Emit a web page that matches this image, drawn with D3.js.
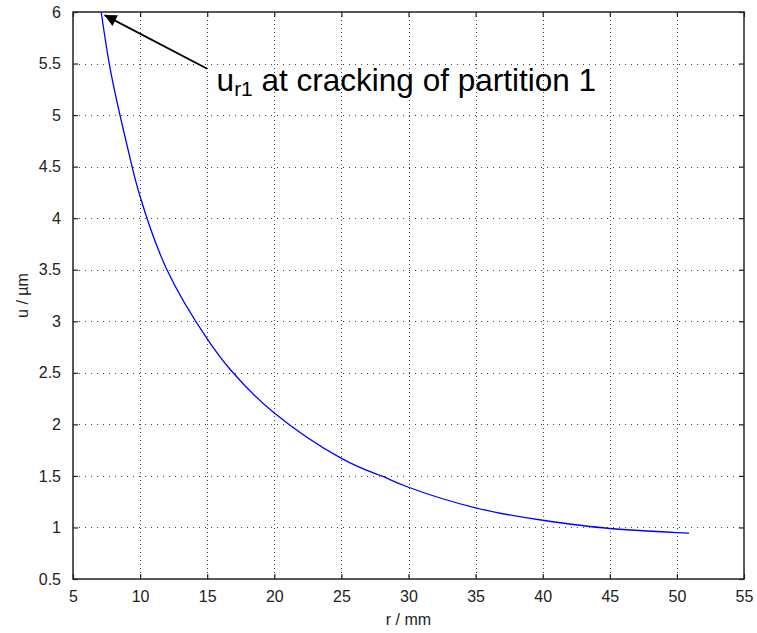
<!DOCTYPE html>
<html lang="en">
<head>
    <meta charset="UTF-8">
    <title>u vs r</title>
    <style>
        body {
            margin: 0;
            background: #fff;
            font-family: Arial, "Liberation Sans", sans-serif;
        }
        .grid line {
            stroke: #444;
            stroke-width: 1;
        }
        .tick-label {
            font-size: 16px;
            fill: #222;
        }
    </style>
</head>
<body>
    <div id="chart"></div>
    <script src="https://d3js.org/d3.v7.min.js"></script>
    <script>
        // values
        const rValues = [7.1, 7.7, 8.5, 9.4, 10, 12, 15, 16.8, 20, 25, 28, 30, 35, 40, 45, 50, 50.8];
        const uValues = [6, 5.5, 5, 4.5, 4.21, 3.5, 2.83, 2.52, 2.11, 1.67, 1.5, 1.39, 1.19, 1.07, 0.99, 0.95, 0.945];
        const xTicks = [5, 10, 15, 20, 25, 30, 35, 40, 45, 50, 55];
        const yTicks = [0.5, 1, 1.5, 2, 2.5, 3, 3.5, 4, 4.5, 5, 5.5, 6];

        const width = 757, height = 633;
        const plotL = 73, plotR = 744, plotT = 12, plotB = 579;

        const svg = d3.select("#chart").append("svg")
            .attr("width", width)
            .attr("height", height);

        const x = d3.scaleLinear().domain([5, 55]).range([plotL, plotR]);
        const y = d3.scaleLinear().domain([0.5, 6]).range([plotB, plotT]);

        // dotted grid
        const grid = svg.append("g").attr("class", "grid");
        grid.selectAll(".vg").data(xTicks.slice(1, -1)).enter().append("line")
            .attr("x1", d => Math.round(x(d)) + 0.5).attr("x2", d => Math.round(x(d)) + 0.5)
            .attr("y1", plotT).attr("y2", plotB)
            .attr("stroke-dasharray", "1,3");
        grid.selectAll(".hg").data(yTicks.slice(1, -1)).enter().append("line")
            .attr("x1", plotL).attr("x2", plotR)
            .attr("y1", d => Math.round(y(d)) + 0.5).attr("y2", d => Math.round(y(d)) + 0.5)
            .attr("stroke-dasharray", "1,5");

        // axes with inward ticks on all four sides
        const axisStyle = g => {
            g.select(".domain").remove();
            g.selectAll(".tick line").attr("stroke", "#222").attr("stroke-width", 1.2);
        };
        svg.append("g").attr("transform", `translate(0,${plotB})`)
            .call(d3.axisBottom(x).tickValues(xTicks).tickFormat(d => d).tickSizeInner(-5).tickSizeOuter(0).tickPadding(12))
            .call(axisStyle)
            .selectAll("text").attr("class", "tick-label").attr("font-family", "Arial, sans-serif");
        svg.append("g").attr("transform", `translate(0,${plotT})`)
            .call(d3.axisTop(x).tickValues(xTicks).tickSizeInner(-5).tickSizeOuter(0).tickFormat(""))
            .call(axisStyle);
        svg.append("g").attr("transform", `translate(${plotL},0)`)
            .call(d3.axisLeft(y).tickValues(yTicks).tickFormat(d => d).tickSizeInner(-5).tickSizeOuter(0).tickPadding(12))
            .call(axisStyle)
            .selectAll("text").attr("class", "tick-label").attr("font-family", "Arial, sans-serif");
        svg.append("g").attr("transform", `translate(${plotR},0)`)
            .call(d3.axisRight(y).tickValues(yTicks).tickSizeInner(-5).tickSizeOuter(0).tickFormat(""))
            .call(axisStyle);

        // frame
        svg.append("rect")
            .attr("x", plotL).attr("y", plotT)
            .attr("width", plotR - plotL).attr("height", plotB - plotT)
            .attr("fill", "none").attr("stroke", "#222").attr("stroke-width", 1.5);

        // curve
        const pts = rValues.map((r, i) => [r, uValues[i]]);
        const line = d3.line()
            .x(d => x(d[0]))
            .y(d => y(d[1]))
            .curve(d3.curveNatural);
        svg.append("path")
            .datum(pts)
            .attr("fill", "none")
            .attr("stroke", "#0000ff")
            .attr("stroke-width", 1.3)
            .attr("d", line);

        // axis labels
        svg.append("text")
            .attr("x", (plotL + plotR) / 2).attr("y", 625)
            .attr("text-anchor", "middle")
            .attr("font-size", 16).attr("fill", "#222")
            .text("r / mm");
        svg.append("text")
            .attr("transform", `translate(28,${(plotT + plotB) / 2}) rotate(-90)`)
            .attr("text-anchor", "middle")
            .attr("font-size", 16).attr("fill", "#222")
            .text("u / µm");

        // annotation arrow
        svg.append("defs").append("marker")
            .attr("id", "head")
            .attr("viewBox", "0 0 10 10")
            .attr("refX", 10).attr("refY", 5)
            .attr("markerWidth", 22).attr("markerHeight", 12)
            .attr("markerUnits", "userSpaceOnUse")
            .attr("orient", "auto")
            .append("path").attr("d", "M0,0 L10,5 L0,10 z").attr("fill", "#000");
        svg.append("line")
            .attr("x1", x(15)).attr("y1", y(5.45))
            .attr("x2", x(7.35)).attr("y2", y(5.97))
            .attr("stroke", "#000").attr("stroke-width", 1.8)
            .attr("marker-end", "url(#head)");

        const note = svg.append("text")
            .attr("x", x(15.7)).attr("y", 91)
            .attr("font-size", 31.5).attr("fill", "#000");
        note.append("tspan").text("u");
        note.append("tspan").attr("font-size", 21).attr("dy", 5).text("r1");
        note.append("tspan").attr("dy", -5).text(" at cracking of partition 1");
    </script>
</body>
</html>
